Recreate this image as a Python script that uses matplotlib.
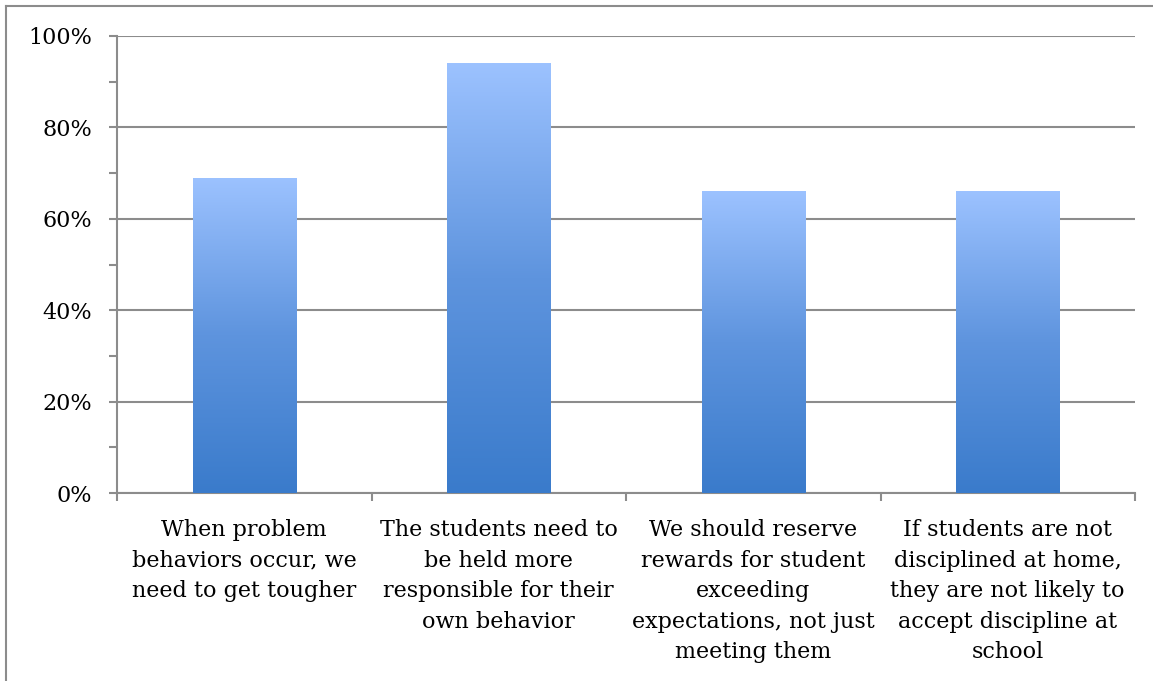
import numpy as np
import matplotlib
matplotlib.use("Agg")
import matplotlib.pyplot as plt
from matplotlib.colors import LinearSegmentedColormap
from matplotlib.lines import Line2D
from matplotlib.ticker import MultipleLocator, PercentFormatter

# data
categories = [
    "When problem\nbehaviors occur, we\nneed to get tougher",
    "The students need to\nbe held more\nresponsible for their\nown behavior",
    "We should reserve\nrewards for student\nexceeding\nexpectations, not just\nmeeting them",
    "If students are not\ndisciplined at home,\nthey are not likely to\naccept discipline at\nschool",
]
values = [69, 94, 66, 66]

plt.rcParams['font.family'] = ['DejaVu Serif']

fig = plt.figure(figsize=(11.53, 6.81), dpi=100)
ax = fig.add_axes([117/1153, 1 - 493/681, (1135 - 117)/1153, (493 - 36)/681])

grad = LinearSegmentedColormap.from_list("bluegrad", ["#3A7BCB", "#5E94DE", "#9CC2FF"])
x = np.arange(len(values))
bars = ax.bar(x, values, width=0.405, color="none", edgecolor="none", zorder=3)
for b in bars:
    x0, y0 = b.get_x(), b.get_y()
    w, h = b.get_width(), b.get_height()
    im = ax.imshow(np.linspace(0, 1, 256).reshape(-1, 1), cmap=grad, origin="lower",
                   extent=[x0, x0 + w, y0, y0 + h], aspect="auto", zorder=3)
    im.set_clip_path(b)

ax.set_xlim(-0.5, len(values) - 0.5)
ax.set_ylim(0, 100)
ax.yaxis.set_major_locator(MultipleLocator(20))
ax.yaxis.set_minor_locator(MultipleLocator(10))
ax.yaxis.set_major_formatter(PercentFormatter(decimals=0))
ax.grid(axis="y", color="#8c8c8c", linewidth=1.5, zorder=0)

ax.set_xticks(np.arange(-0.5, len(values), 1.0))
ax.set_xticklabels([])
ax.set_xticks(x, minor=True)
ax.set_xticklabels(categories, minor=True, fontsize=16, linespacing=1.5, va="top")
ax.tick_params(axis="x", which="minor", length=0, pad=19)
ax.tick_params(axis="x", which="major", length=6, direction="out", color="#8c8c8c", width=1.5)
ax.tick_params(axis="y", which="both", length=6, direction="out", color="#8c8c8c", width=1.5,
               labelsize=16, pad=12)

for s in ["top", "right"]:
    ax.spines[s].set_visible(False)
for s in ["left", "bottom"]:
    ax.spines[s].set_color("#8c8c8c")
    ax.spines[s].set_linewidth(1.5)

# outer frame of the embedded chart
fig.add_artist(Line2D([6/1153, 6/1153], [0, 1 - 6/681], color="#8c8c8c", linewidth=1.5,
                      transform=fig.transFigure))
fig.add_artist(Line2D([6/1153, 1], [1 - 6/681, 1 - 6/681], color="#8c8c8c", linewidth=1.5,
                      transform=fig.transFigure))

fig.savefig("out.png", dpi=100)
